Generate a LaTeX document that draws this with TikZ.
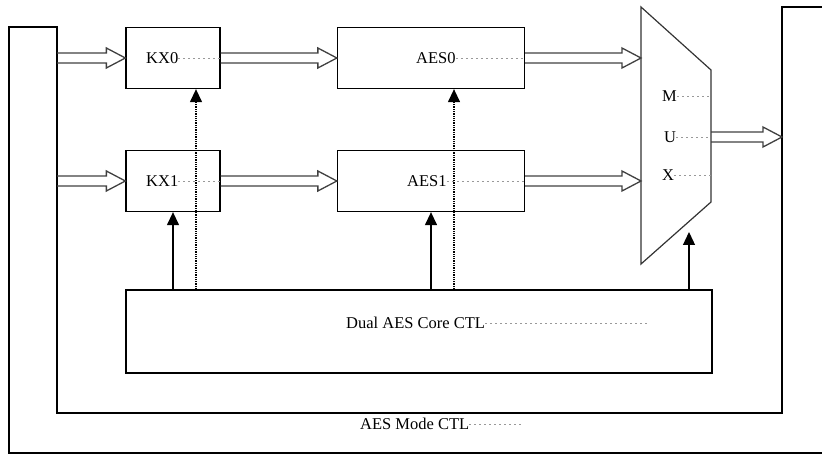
\documentclass[tikz,border=0pt]{standalone}
\usepackage{fontspec}
\setmainfont{Liberation Serif}
\usetikzlibrary{arrows.meta,calc}
\begin{document}
\begin{tikzpicture}[x=1pt,y=-1pt,
 box/.style={draw, line width=1.3pt, inner sep=0pt},
 lbl/.style={inner sep=0pt, font=\fontsize{16.5}{16.5}\selectfont, anchor=west},
 tab/.style={gray!80, line width=0.6pt, dash pattern=on 2pt off 3pt},
 ctl/.style={line width=1.3pt, -{Triangle[width=12pt,length=13pt]}},
 ctldot/.style={ctl, densely dotted},
 hollow/.style={draw=black!75, line width=1.3pt, to path={let \p1=(\tikztostart), \p2=(\tikztotarget) in (\x1,\y1+5pt) -- (\x2-19pt,\y1+5pt) -- (\x2-19pt,\y1+10pt) -- (\x2,\y1) -- (\x2-19pt,\y1-10pt) -- (\x2-19pt,\y1-5pt) -- (\x1,\y1-5pt)}}
]
\useasboundingbox (0,0) rectangle (822,454);

% outer mode-control band
\draw[line width=1.3pt] (822,7) -- (782,7) -- (782,413) -- (57,413) -- (57,27) -- (9,27) -- (9,453) -- (822,453);

% boxes
\node[box, minimum width=94pt, minimum height=61pt] (kx0) at (173,58) {};
\node[box, minimum width=94pt, minimum height=61pt] (kx1) at (173,181) {};
\node[box, minimum width=187pt, minimum height=61pt] (aes0) at (431,58) {};
\node[box, minimum width=187pt, minimum height=61pt] (aes1) at (431,181) {};
\node[box, minimum width=586pt, minimum height=83pt] (core) at (419,331.5) {};

% mux
\draw[line width=1.2pt, draw=black!80] (641,7) coordinate (m1) -- (711,70) coordinate (m2) -- (711,202) coordinate (m3) -- (641,264) coordinate (m4) -- cycle;

% labels
\node[lbl] (t0) at (146,58) {KX0}; \draw[tab] (t0.east) -- (t0.east -| kx0.east);
\node[lbl] (t1) at (146,181) {KX1}; \draw[tab] (t1.east) -- (t1.east -| kx1.east);
\node[lbl] (ta0) at (416,58) {AES0}; \draw[tab] (ta0.east) -- (ta0.east -| aes0.east);
\node[lbl] (ta1) at (407,181) {AES1}; \draw[tab] (ta1.east) -- (ta1.east -| aes1.east);
\node[lbl] (tm) at (662,96) {M}; \draw[tab] (tm.east) -- (tm.east -| m2);
\node[lbl] (tu) at (664,137) {U}; \draw[tab] (tu.east) -- (tu.east -| m2);
\node[lbl] (tx) at (662,175) {X}; \draw[tab] (tx.east) -- (tx.east -| m2);
\coordinate (tce) at (650,323);
\node[lbl] (tc) at (346,323) {Dual AES Core CTL}; \draw[tab] (tc.east) -- (tc.east -| tce);
\coordinate (tme) at (523,424);
\node[lbl] (tmode) at (360,424) {AES Mode CTL}; \draw[tab] (tmode.east) -- (tmode.east -| tme);

% hollow data arrows
\coordinate (in0) at (57,58);
\coordinate (in1) at (57,181);
\coordinate (mo) at (711,137);
\coordinate (out) at (782,137);
\draw[hollow] (in0) to (kx0.west);
\draw[hollow] (in1) to (kx1.west);
\draw[hollow] (kx0.east) to (aes0.west);
\draw[hollow] (kx1.east) to (aes1.west);
\draw[hollow] (aes0.east) to (aes0.east -| m1);
\draw[hollow] (aes1.east) to (aes1.east -| m1);
\draw[hollow] (mo) to (out);

% control arrows
\coordinate (d0) at ([xshift=23pt]kx0.south);
\coordinate (d1) at ([xshift=23pt]aes0.south);
\coordinate (mc) at (689,232);
\draw[ctl] (kx1.south |- core.north) -- (kx1.south);
\draw[ctldot] (d0 |- core.north) -- (d0);
\draw[ctl] (aes1.south |- core.north) -- (aes1.south);
\draw[ctldot] (d1 |- core.north) -- (d1);
\draw[ctl] (mc |- core.north) -- (mc);
\end{tikzpicture}
\end{document}
